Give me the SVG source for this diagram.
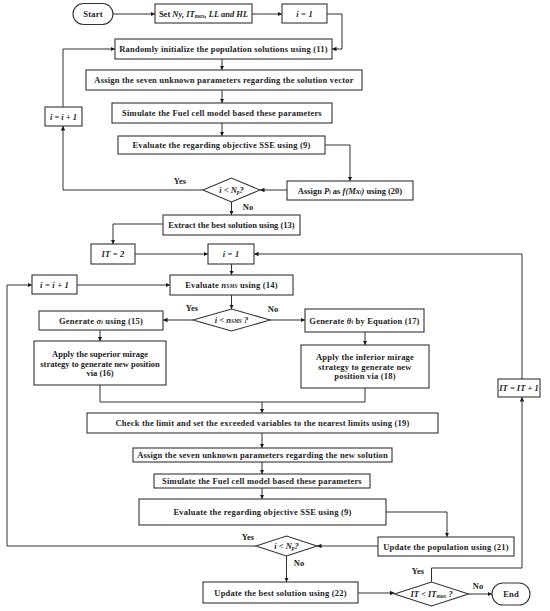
<svg xmlns="http://www.w3.org/2000/svg" width="550" height="611" viewBox="0 0 550 611">
<defs>
<marker id="ah" viewBox="0 0 6 6" refX="6" refY="3" markerWidth="4.5" markerHeight="4.5" markerUnits="userSpaceOnUse" orient="auto">
<path d="M0,0 L6,3 L0,6 z" fill="#1a1a1a"/>
</marker>
<style>
.b{fill:#fff;stroke:#333;stroke-width:1.1}
.t{font-family:"Liberation Serif","Times New Roman",serif;font-weight:bold;font-size:8.5px;letter-spacing:0.2px;fill:#1e1e1e;text-anchor:middle;dominant-baseline:central}
.n{letter-spacing:0px}
.i{font-style:italic}
.s{font-size:5.5px}
.c{fill:none;stroke:#1a1a1a;stroke-width:0.9}
.a{marker-end:url(#ah)}
.l{font-family:"Liberation Serif","Times New Roman",serif;font-weight:bold;font-size:8.5px;fill:#1e1e1e;text-anchor:middle;dominant-baseline:central}
</style>
</defs>
<rect width="550" height="611" fill="#fff"/>
<g id="connectors">
<path class="c a" d="M113,14 H155"/>
<path class="c a" d="M252,14 H282"/>
<path class="c a" d="M327,14 H342 V49 H332"/>
<path class="c a" d="M222,59 V70"/>
<path class="c a" d="M222,90 V103"/>
<path class="c a" d="M222,123 V136"/>
<path class="c a" d="M325,145 H350 V181"/>
<path class="c a" d="M287,190 H260"/>
<path class="c a" d="M203,190 H63 V126"/>
<path class="c a" d="M63,107 V49 H115"/>
<path class="c a" d="M231.5,202 V215"/>
<path class="c a" d="M163,224 H113 V244"/>
<path class="c a" d="M135,254 H208"/>
<path class="c a" d="M522,379 V254 H254"/>
<path class="c a" d="M231.5,264 V275"/>
<path class="c a" d="M77,285 H170"/>
<path class="c a" d="M231.5,295 V309"/>
<path class="c a" d="M193,320 H163"/>
<path class="c a" d="M270,320 H305"/>
<path class="c a" d="M100,329 V341"/>
<path class="c a" d="M365,332 V345"/>
<path class="c" d="M100,385 V402 H365 V388"/>
<path class="c a" d="M262,402 V413"/>
<path class="c a" d="M262,433 V448"/>
<path class="c a" d="M262,462 V474"/>
<path class="c a" d="M262,488 V499"/>
<path class="c a" d="M386,512 H447 V537"/>
<path class="c a" d="M378,546 H317"/>
<path class="c a" d="M256,546 H7 V285 H32"/>
<path class="c a" d="M286.5,556 V582"/>
<path class="c a" d="M358,593 H394.5"/>
<path class="c a" d="M431.5,582 V568 H522 V397"/>
<path class="c a" d="M468.5,594 H492"/>
<text class="l" x="180" y="181">Yes</text>
<text class="l" x="248" y="207">No</text>
<text class="l" x="192" y="308">Yes</text>
<text class="l" x="273" y="309">No</text>
<text class="l" x="248" y="537">Yes</text>
<text class="l" x="299" y="563">No</text>
<text class="l" x="418" y="571">Yes</text>
<text class="l" x="478" y="586">No</text>
</g>
<g id="start"><rect class="b" x="73" y="3.5" width="40" height="21" rx="10.5"/><text class="t" x="93" y="14">Start</text></g>
<g id="set"><rect class="b" x="155" y="4" width="97" height="19"/><text class="t n" x="203.5" y="14">Set <tspan class="i">Ny, IT</tspan><tspan class="i s" dy="1.5">max</tspan><tspan class="i" dy="-1.5">, LL and HL</tspan></text></g>
<g id="i1a"><rect class="b" x="282" y="4" width="45" height="19"/><text class="t i" x="304.5" y="14">i = 1</text></g>
<g id="randomly"><rect class="b" x="115" y="39" width="217" height="20"/><text class="t" x="223.5" y="49">Randomly initialize the population solutions using (11)</text></g>
<g id="assign1"><rect class="b" x="86" y="70" width="276" height="20"/><text class="t" x="224" y="80">Assign the seven unknown parameters regarding the solution vector</text></g>
<g id="simulate1"><rect class="b" x="112" y="103" width="220" height="20"/><text class="t" x="222" y="113">Simulate the Fuel cell model based these parameters</text></g>
<g id="evaluate1"><rect class="b" x="118" y="136" width="207" height="18"/><text class="t" x="221.5" y="145">Evaluate the regarding objective SSE using (9)</text></g>
<g id="assignP"><rect class="b" x="287" y="181" width="126" height="19"/><text class="t n" x="350" y="190.5">Assign <tspan class="i">P</tspan><tspan class="i s" dy="1.5">i</tspan><tspan dy="-1.5"> as </tspan><tspan class="i">f(Mx</tspan><tspan class="i s" dy="1.5">i</tspan><tspan class="i" dy="-1.5">)</tspan> using (20)</text></g>
<g id="dec1"><polygon class="b" points="203,190 231.5,178 260,190 231.5,202"/><text class="t i n" x="231.5" y="190">i &lt; N<tspan class="s" dy="1.5">p</tspan><tspan dy="-1.5">?</tspan></text></g>
<g id="inc1"><rect class="b" x="45" y="107" width="37" height="19"/><text class="t i n" x="63.5" y="116.5">i = i + 1</text></g>
<g id="extract"><rect class="b" x="163" y="215" width="137" height="20"/><text class="t n" x="231.5" y="225">Extract the best solution using (13)</text></g>
<g id="it2"><rect class="b" x="91" y="244" width="44" height="20"/><text class="t i" x="113" y="254">IT = 2</text></g>
<g id="i1b"><rect class="b" x="208" y="244" width="46" height="20"/><text class="t i" x="231" y="254">i = 1</text></g>
<g id="inc2"><rect class="b" x="32" y="275" width="45" height="19"/><text class="t i" x="54.5" y="284.5">i = i + 1</text></g>
<g id="evaln"><rect class="b" x="170" y="275" width="123" height="20"/><text class="t" x="231.5" y="285">Evaluate <tspan class="i">n</tspan><tspan class="i s" dy="1">SMS</tspan><tspan dy="-1"> using (14)</tspan></text></g>
<g id="dec2"><polygon class="b" points="193,320 231.5,309 270,320 231.5,331"/><text class="t i n" x="231.5" y="320">i &lt; n<tspan class="s" dy="1">SMS</tspan><tspan dy="-1"> ?</tspan></text></g>
<g id="gensigma"><rect class="b" x="39" y="311" width="124" height="19"/><text class="t" x="101" y="320.5">Generate <tspan class="i">σ</tspan><tspan class="i s" dy="1.5">i</tspan><tspan dy="-1.5"> using (15)</tspan></text></g>
<g id="applysup"><rect class="b" x="34" y="341" width="132" height="44"/><text class="t n" x="100" y="354">Apply the superior mirage</text><text class="t n" x="100" y="363.5">strategy to generate new position</text><text class="t n" x="100" y="373">via (16)</text></g>
<g id="gentheta"><rect class="b" x="305" y="309" width="119" height="23"/><text class="t" x="364.5" y="320.5">Generate <tspan class="i">θ</tspan><tspan class="i s" dy="1.5">i</tspan><tspan dy="-1.5"> by Equation (17)</tspan></text></g>
<g id="applyinf"><rect class="b" x="301" y="345" width="128" height="43"/><text class="t" x="365" y="357">Apply the inferior mirage</text><text class="t" x="365" y="366.5">strategy to generate new</text><text class="t" x="365" y="376">position via (18)</text></g>
<g id="check"><rect class="b" x="87" y="413" width="351" height="20"/><text class="t" x="262.5" y="423">Check the limit and set the exceeded variables to the nearest limits using (19)</text></g>
<g id="assign2"><rect class="b" x="133" y="448" width="259" height="14"/><text class="t" x="262.5" y="455">Assign the seven unknown parameters regarding the new solution</text></g>
<g id="simulate2"><rect class="b" x="154" y="474" width="216" height="14"/><text class="t" x="262" y="481">Simulate the Fuel cell model based these parameters</text></g>
<g id="evaluate2"><rect class="b" x="139" y="499" width="247" height="26"/><text class="t" x="262.5" y="512">Evaluate the regarding objective SSE using (9)</text></g>
<g id="updatepop"><rect class="b" x="378" y="537" width="136" height="19"/><text class="t" x="446" y="546.5">Update the population using (21)</text></g>
<g id="dec3"><polygon class="b" points="256,546 286.5,536 317,546 286.5,556"/><text class="t i n" x="286.5" y="546">i &lt; N<tspan class="s" dy="1.5">p</tspan><tspan dy="-1.5">?</tspan></text></g>
<g id="updatebest"><rect class="b" x="203" y="582" width="155" height="21"/><text class="t" x="280.5" y="592.5">Update the best solution using (22)</text></g>
<g id="dec4"><polygon class="b" points="394.5,594 431.5,582 468.5,594 431.5,606"/><text class="t i n" x="431.5" y="594">IT &lt; IT<tspan class="s" dy="1.5">max</tspan><tspan dy="-1.5"> ?</tspan></text></g>
<g id="itinc"><rect class="b" x="498" y="379" width="42" height="18"/><text class="t i n" x="519" y="388">IT = IT + 1</text></g>
<g id="end"><rect class="b" x="492" y="583" width="38" height="22" rx="11"/><text class="t" x="511" y="594">End</text></g>
</svg>
